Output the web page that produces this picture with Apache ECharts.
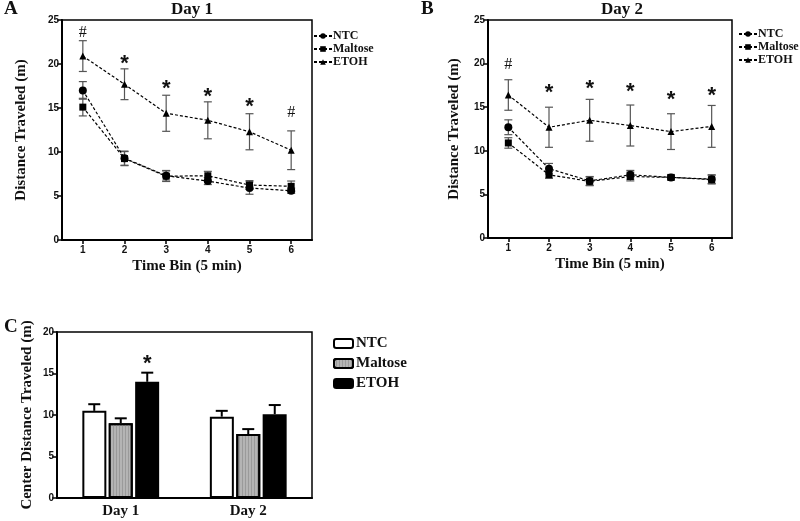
<!DOCTYPE html>
<html><head><meta charset="utf-8">
<script src="https://cdn.jsdelivr.net/npm/echarts@6/dist/echarts.min.js"></script>
<style>html,body{margin:0;padding:0;background:#fff}#c{width:800px;height:521px}</style>
</head><body><div id="c"></div>
<script>
const timeBins = ['1','2','3','4','5','6'];
// Day 1 (panel A)
const d1NTC = [17.0, 9.3, 7.3, 6.7, 5.9, 5.6];
const d1NTCErr = [1.0, 0.8, 0.6, 0.4, 0.7, 0.3];
const d1Mal = [15.1, 9.25, 7.25, 7.3, 6.25, 6.1];
const d1MalErr = [1.0, 0.8, 0.6, 0.5, 0.5, 0.6];
const d1ETOH = [20.9, 17.7, 14.4, 13.6, 12.3, 10.2];
const d1ETOHErr = [1.75, 1.75, 2.05, 2.1, 2.05, 2.2];
const d1Marks = ['#','*','*','*','*','#'];
const d1MarkY = [23.6, 20.5, 17.6, 16.7, 15.6, 14.4];
// Day 2 (panel B)
const d2NTC = [12.7, 7.95, 6.55, 7.25, 6.95, 6.75];
const d2NTCErr = [0.85, 0.6, 0.5, 0.5, 0.3, 0.5];
const d2Mal = [10.9, 7.25, 6.5, 7.05, 6.95, 6.7];
const d2MalErr = [0.6, 0.4, 0.5, 0.5, 0.2, 0.5];
const d2ETOH = [16.4, 12.7, 13.5, 12.9, 12.2, 12.8];
const d2ETOHErr = [1.75, 2.3, 2.4, 2.35, 2.05, 2.4];
const d2Marks = ['#','*','*','*','*','*'];
const d2MarkY = [19.9, 17.1, 17.6, 17.2, 16.3, 16.7];
// Center distance (panel C)
const days = ['Day 1','Day 2'];
const cNTC = [10.5, 9.8];
const cNTCErr = [0.8, 0.7];
const cMal = [9.0, 7.7];
const cMalErr = [0.6, 0.6];
const cETOH = [14.0, 10.1];
const cETOHErr = [1.1, 1.1];
const cETOHMarks = ['*', ''];
const cETOHMarkY = [16.6, 0];

const serif = 'Liberation Serif';
const sans = 'Liberation Sans';
const BAR_W = 24, BAR_STEP = 26.5;

const chart = echarts.init(document.getElementById('c'));

function errSeries(xi, yi, means, errs, color) {
  return {
    type: 'custom', xAxisIndex: xi, yAxisIndex: yi, z: 1, silent: true,
    data: means.map((m, i) => [i, m - errs[i], m + errs[i]]),
    renderItem: function (params, api) {
      const lo = api.coord([api.value(0), api.value(1)]);
      const hi = api.coord([api.value(0), api.value(2)]);
      const w = 4;
      const st = { stroke: color, lineWidth: 1.2 };
      return { type: 'group', children: [
        { type: 'line', shape: { x1: lo[0], y1: lo[1], x2: hi[0], y2: hi[1] }, style: st },
        { type: 'line', shape: { x1: lo[0]-w, y1: lo[1], x2: lo[0]+w, y2: lo[1] }, style: st },
        { type: 'line', shape: { x1: hi[0]-w, y1: hi[1], x2: hi[0]+w, y2: hi[1] }, style: st }
      ]};
    }
  };
}
function markSeries(xi, yi, marks, ys) {
  return {
    type: 'custom', xAxisIndex: xi, yAxisIndex: yi, silent: true,
    data: marks.map((t, i) => [i, ys[i]]),
    renderItem: function (params, api) {
      const p = api.coord([api.value(0), api.value(1)]);
      const t = marks[params.dataIndex];
      const star = t === '*';
      return { type: 'text', x: p[0], y: p[1] + (star ? 4 : 0), style: {
        text: t, fill: '#111', align: 'center', verticalAlign: 'middle',
        font: star ? 'bold 22px ' + sans : '16px ' + serif } };
    }
  };
}
function lineSeries(name, xi, yi, data, symbol, size) {
  return {
    name: name, type: 'line', xAxisIndex: xi, yAxisIndex: yi, data: data,
    symbol: symbol, symbolSize: size, z: 3,
    lineStyle: { color: '#000', width: 1.2, type: [3, 2] },
    itemStyle: { color: '#000' }
  };
}
function barErr(means, errs, k) {
  return {
    type: 'custom', xAxisIndex: 2, yAxisIndex: 2, z: 1, silent: true,
    data: means.map((m, i) => [i, m, m + errs[i]]),
    renderItem: function (params, api) {
      const off = (k - 1) * BAR_STEP;
      const lo = api.coord([api.value(0), api.value(1)]);
      const hi = api.coord([api.value(0), api.value(2)]);
      const x = lo[0] + off;
      const st = { stroke: '#000', lineWidth: 2 };
      return { type: 'group', children: [
        { type: 'line', shape: { x1: x, y1: lo[1], x2: x, y2: hi[1] }, style: st },
        { type: 'line', shape: { x1: x-6, y1: hi[1], x2: x+6, y2: hi[1] }, style: st }
      ]};
    }
  };
}

function yAxis(gi, max, name, gap) {
  return {
    type: 'value', gridIndex: gi, min: 0, max: max, interval: 5,
    name: name, nameLocation: 'middle', nameGap: gap,
    nameTextStyle: { fontFamily: serif, fontWeight: 'bold', fontSize: 15, color: '#111' },
    axisLine: { show: true, lineStyle: { color: '#000', width: 2 } },
    axisTick: { show: true, length: 5, lineStyle: { color: '#000', width: 1.5 } },
    axisLabel: { fontFamily: sans, fontWeight: 'bold', fontSize: 10, color: '#111', margin: 3 },
    splitLine: { show: false }
  };
}
function xAxisCat(gi, data, name, labelFont, labelSize, margin) {
  return {
    type: 'category', gridIndex: gi, data: data,
    name: name, nameLocation: 'middle', nameGap: 19,
    nameTextStyle: { fontFamily: serif, fontWeight: 'bold', fontSize: 15, color: '#111' },
    axisLine: { show: true, lineStyle: { color: '#000', width: 2 } },
    axisTick: { show: true, alignWithLabel: true, length: 4, lineStyle: { color: '#000', width: 1.5 } },
    axisLabel: { fontFamily: labelFont, fontWeight: 'bold', fontSize: labelSize, color: '#111', margin: margin }
  };
}

const legendBase = {
  orient: 'vertical', itemGap: 1, itemWidth: 18, itemHeight: 7,
  textStyle: { fontFamily: serif, fontWeight: 'bold', fontSize: 12, color: '#111', padding: [0,0,0,-4] }
};
const titleText = (s) => ({ fontFamily: serif, fontWeight: 'bold', fontSize: s, color: '#111' });

chart.setOption({
  animation: false,
  backgroundColor: '#fff',
  title: [
    { text: 'A', left: 4, top: 0, padding: 0, textStyle: titleText(19) },
    { text: 'B', left: 421, top: 0, padding: 0, textStyle: titleText(19) },
    { text: 'C', left: 4, top: 318, padding: 0, textStyle: titleText(19) },
    { text: 'Day 1', left: 192, top: 1, padding: 0, textAlign: 'center', textStyle: titleText(17) },
    { text: 'Day 2', left: 622, top: 1, padding: 0, textAlign: 'center', textStyle: titleText(17) }
  ],
  grid: [
    { left: 62, top: 20, width: 250, height: 220, show: true, borderColor: '#000', borderWidth: 1.5, backgroundColor: 'transparent' },
    { left: 488, top: 20, width: 244, height: 218, show: true, borderColor: '#000', borderWidth: 1.5, backgroundColor: 'transparent' },
    { left: 57, top: 332, width: 255, height: 166, show: true, borderColor: '#000', borderWidth: 1.5, backgroundColor: 'transparent' }
  ],
  xAxis: [
    xAxisCat(0, timeBins, 'Time Bin (5 min)', sans, 10, 5),
    xAxisCat(1, timeBins, 'Time Bin (5 min)', sans, 10, 5),
    Object.assign(xAxisCat(2, days, '', serif, 15, 6), { axisTick: { show: false } })
  ],
  yAxis: [
    yAxis(0, 25, 'Distance Traveled (m)', 33),
    yAxis(1, 25, 'Distance Traveled (m)', 26),
    yAxis(2, 20, 'Center Distance Traveled (m)', 22)
  ],
  legend: [
    Object.assign({}, legendBase, { left: 308, top: 25, data: ['NTC','Maltose','ETOH'] }),
    Object.assign({}, legendBase, { left: 733, top: 23, data: ['NTC','Maltose','ETOH'] }),
    { orient: 'vertical', left: 328, top: 331, itemGap: 5, itemWidth: 19, itemHeight: 9,
      textStyle: { fontFamily: serif, fontWeight: 'bold', fontSize: 15, color: '#111', padding: [0,0,0,-2] },
      data: ['NTC ','Maltose ','ETOH '] }
  ],
  series: [
    errSeries(0, 0, d1ETOH, d1ETOHErr, '#555'),
    errSeries(0, 0, d1NTC, d1NTCErr, '#555'),
    errSeries(0, 0, d1Mal, d1MalErr, '#555'),
    lineSeries('NTC', 0, 0, d1NTC, 'circle', 8),
    lineSeries('Maltose', 0, 0, d1Mal, 'rect', 7),
    lineSeries('ETOH', 0, 0, d1ETOH, 'triangle', 7),
    markSeries(0, 0, d1Marks, d1MarkY),
    errSeries(1, 1, d2ETOH, d2ETOHErr, '#555'),
    errSeries(1, 1, d2NTC, d2NTCErr, '#555'),
    errSeries(1, 1, d2Mal, d2MalErr, '#555'),
    lineSeries('NTC', 1, 1, d2NTC, 'circle', 8),
    lineSeries('Maltose', 1, 1, d2Mal, 'rect', 7),
    lineSeries('ETOH', 1, 1, d2ETOH, 'triangle', 7),
    markSeries(1, 1, d2Marks, d2MarkY),
    { name: 'NTC ', type: 'bar', xAxisIndex: 2, yAxisIndex: 2, data: cNTC, barWidth: BAR_W, barGap: '10%', z: 3,
      itemStyle: { color: '#fff', borderColor: '#000', borderWidth: 2 } },
    { name: 'Maltose ', type: 'bar', xAxisIndex: 2, yAxisIndex: 2, data: cMal, barWidth: BAR_W, barGap: '10%', z: 3,
      itemStyle: { color: '#b4b4b4', borderColor: '#000', borderWidth: 2,
        decal: { symbol: 'rect', symbolSize: 1, dashArrayX: [1, 0], dashArrayY: [1, 2], rotation: Math.PI / 2, color: '#9a9a9a' } } },
    { name: 'ETOH ', type: 'bar', xAxisIndex: 2, yAxisIndex: 2, data: cETOH, barWidth: BAR_W, barGap: '10%', z: 3,
      itemStyle: { color: '#000', borderColor: '#000', borderWidth: 2 } },
    barErr(cNTC, cNTCErr, 0),
    barErr(cMal, cMalErr, 1),
    barErr(cETOH, cETOHErr, 2),
    {
      type: 'custom', xAxisIndex: 2, yAxisIndex: 2, silent: true,
      data: cETOHMarks.map((t, i) => [i, cETOHMarkY[i]]),
      renderItem: function (params, api) {
        const t = cETOHMarks[params.dataIndex];
        if (!t) return null;
        const p = api.coord([api.value(0), api.value(1)]);
        return { type: 'text', x: p[0] + BAR_STEP, y: p[1] + 4, style: { text: t, fill: '#111', align: 'center', verticalAlign: 'middle', font: 'bold 22px ' + sans } };
      }
    }
  ]
});
</script></body></html>
